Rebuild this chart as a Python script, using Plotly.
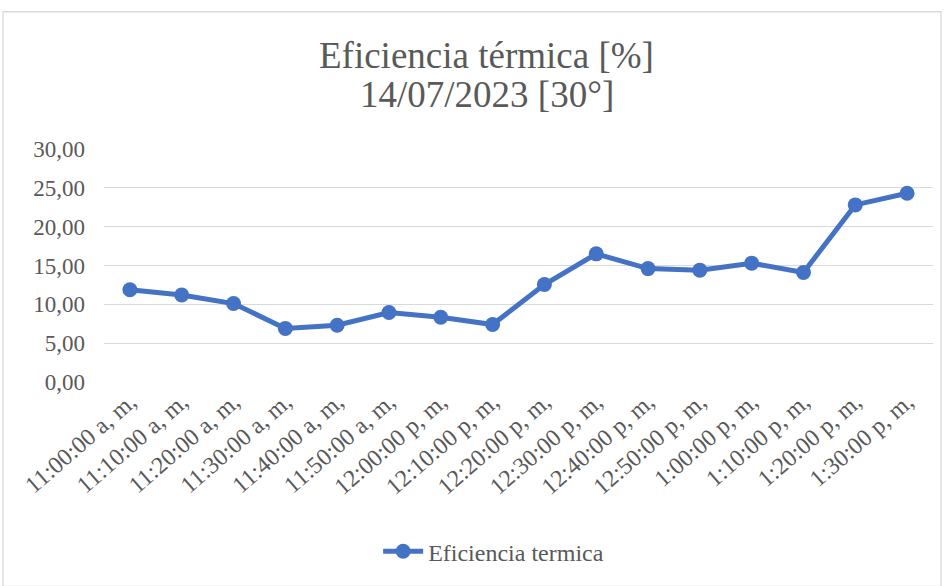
import plotly.graph_objects as go

# Hourly samples of thermal efficiency, 14/07/2023, collector at 30°
horas = [
    "11:00:00 a, m,", "11:10:00 a, m,", "11:20:00 a, m,", "11:30:00 a, m,",
    "11:40:00 a, m,", "11:50:00 a, m,", "12:00:00 p, m,", "12:10:00 p, m,",
    "12:20:00 p, m,", "12:30:00 p, m,", "12:40:00 p, m,", "12:50:00 p, m,",
    "1:00:00 p, m,", "1:10:00 p, m,", "1:20:00 p, m,", "1:30:00 p, m,",
]
eficiencia = [11.88, 11.2, 10.1, 6.9, 7.3, 8.94, 8.34, 7.4,
              12.55, 16.5, 14.6, 14.4, 15.3, 14.1, 22.8, 24.3]

y_ticks = [0, 5, 10, 15, 20, 25, 30]

FONT = "Liberation Serif"
TEXT = "#595959"
GRID = "#D9D9D9"
BLUE = "#4472C4"

fig = go.Figure()
fig.add_trace(go.Scatter(
    x=horas, y=eficiencia, mode="lines+markers", name="Eficiencia termica",
    line=dict(color=BLUE, width=5),
    marker=dict(color=BLUE, size=15),
))

fig.update_layout(
    width=946, height=586,
    margin=dict(l=104, r=13, t=149, b=202),
    paper_bgcolor="white", plot_bgcolor="white",
    separators=",.",
    font=dict(family=FONT, color=TEXT, size=23),
    showlegend=True,
    legend=dict(orientation="h", x=0.47, y=-0.728, xanchor="center", yanchor="middle",
                font=dict(size=24, color=TEXT), itemwidth=40),
    xaxis=dict(type="category", range=[-0.5, len(horas) - 0.5], automargin=False,
               tickangle=-41, showgrid=False, showline=False,
               ticks="", tickfont=dict(size=24, color=TEXT)),
    yaxis=dict(range=[0, 30], tickvals=y_ticks, tickformat=".2f", automargin=False,
               showgrid=True, gridcolor=GRID, gridwidth=1.3,
               zeroline=False, showline=False, ticks="",
               ticklabelstandoff=18, tickfont=dict(size=23, color=TEXT)),
    annotations=[
        dict(text="Eficiencia térmica [%]", xref="paper", yref="paper",
             x=0.462, y=1.40, xanchor="center", yanchor="middle", showarrow=False,
             font=dict(family=FONT, size=37, color=TEXT)),
        dict(text="14/07/2023 [30°]", xref="paper", yref="paper",
             x=0.462, y=1.232, xanchor="center", yanchor="middle", showarrow=False,
             font=dict(family=FONT, size=37, color=TEXT)),
    ],
    shapes=[
        dict(type="rect", xref="paper", yref="paper",
             x0=-0.1218, x1=1.0097, y0=-0.877, y1=1.589,
             line=dict(color=GRID, width=1.3), fillcolor="rgba(0,0,0,0)", layer="below"),
    ],
)

fig.write_html("out.html")
